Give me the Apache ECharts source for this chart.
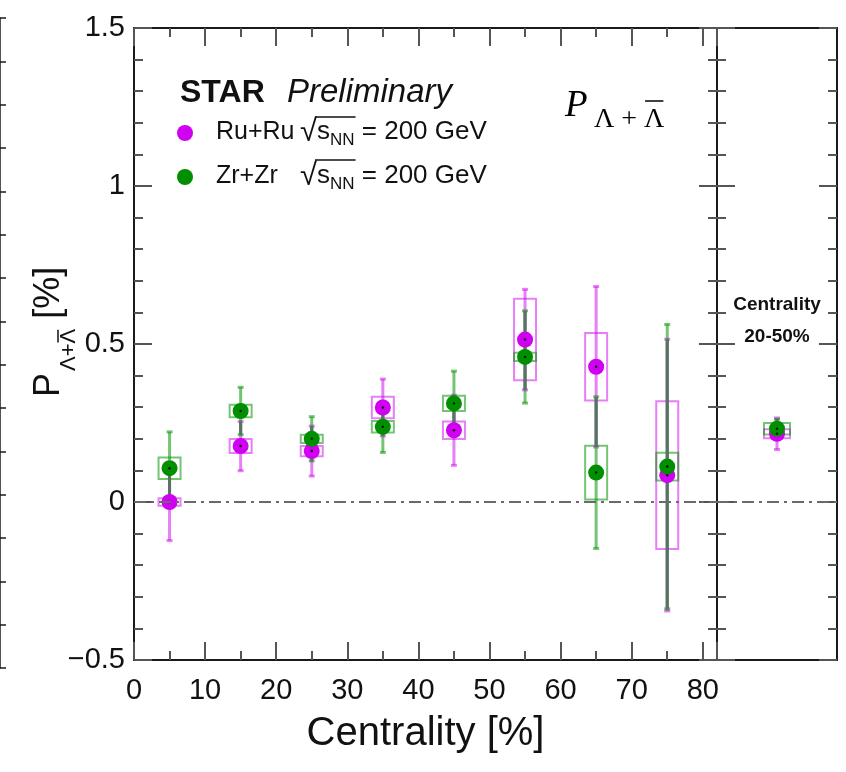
<!DOCTYPE html>
<html>
<head>
<meta charset="utf-8">
<script src="https://cdn.jsdelivr.net/npm/echarts@6/dist/echarts.min.js"></script>
<style>
  html, body { margin: 0; padding: 0; background: #ffffff; }
  #chart { width: 846px; height: 772px; }
</style>
</head>
<body>
<div id="chart"></div>
<script>
// Centrality bins (bin centres, %)
const centrality = [5, 15, 25, 35, 45, 55, 65, 75];

// Ru+Ru polarization [%]: value, statistical and systematic uncertainties
const ruValue = [0.000, 0.177, 0.161, 0.299, 0.227, 0.514, 0.428, 0.085];
const ruStat  = [0.122, 0.078, 0.079, 0.090, 0.111, 0.159, 0.254, 0.430];
const ruSys   = [0.012, 0.022, 0.016, 0.034, 0.028, 0.129, 0.107, 0.234];

// Zr+Zr polarization [%]: value, statistical and systematic uncertainties
const zrValue = [0.107, 0.288, 0.200, 0.238, 0.312, 0.459, 0.093, 0.112];
const zrStat  = [0.115, 0.075, 0.070, 0.081, 0.102, 0.146, 0.240, 0.450];
const zrSys   = [0.034, 0.020, 0.013, 0.018, 0.024, 0.013, 0.085, 0.044];

// Centrality-integrated (20-50%) results
const ruAvg = [0.216], ruAvgStat = [0.050], ruAvgSys = [0.014];
const zrAvg = [0.232], zrAvgStat = [0.030], zrAvgSys = [0.018];
const integratedLabel = ['Centrality', '20-50%'];

const seriesNames = ['Ru+Ru', 'Zr+Zr'];
const energyText = '200 GeV';

const SANS = '"Liberation Sans", Arial, Helvetica, sans-serif';
const SERIF = '"Liberation Serif", "DejaVu Serif", serif';
const RU = '#d000f0';
const ZR = '#008f00';
const RU_LIGHT = 'rgba(208,0,240,0.5)';
const ZR_LIGHT = 'rgba(0,150,0,0.55)';
const OVERLAP = '#587264';
const FRAME = '#1a1a1a';
const TICK = '#555555';
const INK = '#111111';

// text measuring for overline placement
const mctx = document.createElement('canvas').getContext('2d');
function textWidth(font, s) { mctx.font = font; return mctx.measureText(s).width; }

const chart = echarts.init(document.getElementById('chart'), null, { renderer: 'canvas' });

function fmtNum(v) {
  return v < 0 ? '\u2212' + Math.abs(v) : String(v);
}

// Systematic uncertainty boxes
function boxRenderer(halfPx, color) {
  return function (params, api) {
    const x = api.value(0), y = api.value(1), e = api.value(2);
    const top = api.coord([x, y + e]);
    const bot = api.coord([x, y - e]);
    return {
      type: 'rect',
      shape: { x: top[0] - halfPx, y: top[1], width: 2 * halfPx, height: bot[1] - top[1] },
      style: { fill: 'none', stroke: color, lineWidth: 2 }
    };
  };
}

// Statistical error bars with small caps
function barRenderer(color, caps) {
  return function (params, api) {
    const x = api.value(0), lo = api.value(1), hi = api.value(2);
    const a = api.coord([x, hi]);
    const b = api.coord([x, lo]);
    const children = [{
      type: 'line',
      shape: { x1: a[0], y1: a[1], x2: b[0], y2: b[1] },
      style: { stroke: color, lineWidth: 3 }
    }];
    if (caps) {
      children.push({ type: 'line', shape: { x1: a[0] - 3, y1: a[1], x2: a[0] + 3, y2: a[1] }, style: { stroke: color, lineWidth: 3 } });
      children.push({ type: 'line', shape: { x1: b[0] - 3, y1: b[1], x2: b[0] + 3, y2: b[1] }, style: { stroke: color, lineWidth: 3 } });
    }
    return { type: 'group', children: children };
  };
}

function panelSeries(xIdx, yIdx, xs, rv, rs, ry, zv, zs, zy, halfPx, tag) {
  const idx = { xAxisIndex: xIdx, yAxisIndex: yIdx };
  const boxData = (v, s) => xs.map((c, i) => [c, v[i], s[i]]);
  const barData = (v, s) => xs.map((c, i) => [c, v[i] - s[i], v[i] + s[i]]);
  const overlapData = xs.map((c, i) => {
    const lo = Math.max(rv[i] - rs[i], zv[i] - zs[i]);
    const hi = Math.min(rv[i] + rs[i], zv[i] + zs[i]);
    return [c, lo, hi];
  }).filter(d => d[1] < d[2]);
  return [
    Object.assign({
      type: 'line', name: 'zero' + tag, data: [], silent: true,
      markLine: {
        silent: true, symbol: 'none', label: { show: false },
        lineStyle: { color: '#6a6a6a', width: 2, type: [12, 5, 3, 5] },
        data: [{ yAxis: 0 }]
      }
    }, idx),
    Object.assign({ type: 'custom', name: 'ru sys' + tag, renderItem: boxRenderer(halfPx, RU_LIGHT), data: boxData(rv, ry), silent: true }, idx),
    Object.assign({ type: 'custom', name: 'zr sys' + tag, renderItem: boxRenderer(halfPx, ZR_LIGHT), data: boxData(zv, zy), silent: true }, idx),
    Object.assign({ type: 'custom', name: 'ru stat' + tag, renderItem: barRenderer(RU_LIGHT, true), data: barData(rv, rs), silent: true }, idx),
    Object.assign({ type: 'custom', name: 'zr stat' + tag, renderItem: barRenderer(ZR_LIGHT, true), data: barData(zv, zs), silent: true }, idx),
    Object.assign({ type: 'custom', name: 'overlap' + tag, renderItem: barRenderer(OVERLAP, false), data: overlapData, silent: true }, idx),
    Object.assign({
      type: 'scatter', name: tag ? seriesNames[0] + tag : seriesNames[0],
      symbol: 'circle', symbolSize: 16, itemStyle: { color: RU, opacity: 1 },
      data: xs.map((c, i) => [c, rv[i]])
    }, idx),
    Object.assign({
      type: 'scatter', name: tag ? seriesNames[1] + tag : seriesNames[1],
      symbol: 'circle', symbolSize: 16, itemStyle: { color: ZR, opacity: 1 },
      data: xs.map((c, i) => [c, zv[i]])
    }, idx),
    Object.assign({
      type: 'scatter', name: 'centre' + tag, symbol: 'circle', symbolSize: 2.5,
      itemStyle: { color: '#000' }, silent: true,
      data: xs.map((c, i) => [c, rv[i]]).concat(xs.map((c, i) => [c, zv[i]]))
    }, idx)
  ];
}

function frameY(gridIndex, position, withLabels) {
  return {
    type: 'value', gridIndex: gridIndex, position: position,
    min: -0.5, max: 1.5, interval: 0.5,
    axisLine: { show: true, onZero: false, lineStyle: { color: FRAME, width: 2 } },
    axisTick: { show: true, inside: true, length: 18, lineStyle: { color: TICK, width: 2 } },
    minorTick: { show: true, splitNumber: 5, length: 9, lineStyle: { color: TICK, width: 2 } },
    splitLine: { show: false },
    axisLabel: withLabels ? {
      show: true, fontFamily: SANS, fontSize: 29, color: INK, margin: 9,
      formatter: fmtNum
    } : { show: false }
  };
}

function frameX(gridIndex, position, ticks, labels) {
  return {
    type: 'value', gridIndex: gridIndex, position: position,
    min: 0, max: ticks ? 82 : 1, interval: ticks ? 10 : 1,
    axisLine: { show: true, onZero: false, lineStyle: { color: FRAME, width: 2 } },
    axisTick: ticks ? { show: true, inside: true, length: 18, lineStyle: { color: TICK, width: 2 } } : { show: false },
    minorTick: ticks ? { show: true, splitNumber: 2, length: 9, lineStyle: { color: TICK, width: 2 } } : { show: false },
    splitLine: { show: false },
    axisLabel: labels ? {
      show: true, fontFamily: SANS, fontSize: 29, color: INK, margin: 16,
      formatter: v => (v % 10 === 0 ? String(v) : '')
    } : { show: false },
    name: labels ? 'Centrality [%]' : '',
    nameLocation: 'middle', nameGap: 54,
    nameTextStyle: { fontFamily: SANS, fontSize: 40, color: INK }
  };
}

const series = []
  .concat(panelSeries(0, 0, centrality, ruValue, ruStat, ruSys, zrValue, zrStat, zrSys, 11, ''))
  .concat(panelSeries(3, 3, [0.5], ruAvg, ruAvgStat, ruAvgSys, zrAvg, zrAvgStat, zrAvgSys, 13, ' 20-50%'));

// Legend text: name, square root, s_NN, energy
const LEG_LEFT = 172, LEG_TOP = 112, LEG_SPACER = 18;
const legFonts = { n: '25px ' + SANS, r: '31px ' + SANS, s: '26px ' + SANS, sub: '17px ' + SANS };
const legendRich = {
  sp: { width: LEG_SPACER },
  n: { fontFamily: SANS, fontSize: 25, color: INK, width: 84, verticalAlign: 'bottom', padding: [0, 0, 4, 0] },
  r: { fontFamily: SANS, fontSize: 31, color: INK, verticalAlign: 'bottom', padding: [0, 0, 1, 0] },
  s: { fontFamily: SANS, fontSize: 26, color: INK, verticalAlign: 'bottom', padding: [0, 0, 4, 0] },
  sub: { fontFamily: SANS, fontSize: 17, color: INK, verticalAlign: 'bottom' },
  t: { fontFamily: SANS, fontSize: 26, color: INK, verticalAlign: 'bottom', padding: [0, 0, 4, 0] }
};
const sqrtX = LEG_LEFT + 5 + 16 + 5 + LEG_SPACER + 84;
const barStart = sqrtX + textWidth(legFonts.r, '\u221A') - 2;
const barEnd = sqrtX + textWidth(legFonts.r, '\u221A') + textWidth(legFonts.s, 's') + textWidth(legFonts.sub, 'NN') + 1;
const legendRowsY = [131, 174];

// Title P_{Λ+Λ̄}
const TITLE_X = 565, TITLE_BASE = 117, SUB_X = 594, SUB_BASE = 128;
const titleSubFont = '28px ' + SERIF;
const titleBarX0 = SUB_X + textWidth(titleSubFont, '\u039B + ') + 1;
const titleBarX1 = SUB_X + textWidth(titleSubFont, '\u039B + \u039B') - 1;

// Y axis title, drawn in a rotated group (local baseline at y = 0)
const yMainFont = '36px ' + SANS, ySubFont = '22px ' + SANS;
const ySubX = textWidth(yMainFont, 'P') + 2;
const ySubBase = 16;
const yRestX = ySubX + textWidth(ySubFont, '\u039B+\u039B');
const yBarX0 = ySubX + textWidth(ySubFont, '\u039B+') + 1;
const yBarX1 = ySubX + textWidth(ySubFont, '\u039B+\u039B') - 1;

function midY(base, size, k) { return base - (k || 0.31) * size; }

const option = {
  backgroundColor: '#ffffff',
  animation: false,
  grid: [
    { left: 134, top: 28, width: 583, height: 632, containLabel: false },
    { left: 0, top: 18, width: 6, height: 650, containLabel: false },
    { left: 717, top: 28, width: 120, height: 632, containLabel: false }
  ],
  legend: {
    data: seriesNames,
    orient: 'vertical', left: LEG_LEFT, top: LEG_TOP,
    itemWidth: 16, itemHeight: 16, itemGap: 12,
    icon: 'circle', selectedMode: false,
    textStyle: { fontFamily: SANS, fontSize: 25, color: INK, rich: legendRich },
    formatter: name => '{sp|}{n|' + name + '}{r|\u221A}{s|s}{sub|NN}{t| = ' + energyText + '}'
  },
  xAxis: [
    frameX(0, 'bottom', true, true),
    frameX(0, 'top', true, false),
    { type: 'value', gridIndex: 1, min: 0, max: 1, show: false },
    frameX(2, 'bottom', false, false),
    frameX(2, 'top', false, false)
  ],
  yAxis: [
    frameY(0, 'left', true),
    frameY(0, 'right', false),
    {
      type: 'value', gridIndex: 1, position: 'right', min: 0, max: 15, interval: 1,
      axisLine: { show: true, lineStyle: { color: FRAME, width: 1.5 } },
      axisTick: { show: false }, axisLabel: { show: false },
      splitLine: { show: true, lineStyle: { color: FRAME, width: 1.5 } }
    },
    frameY(2, 'left', false),
    frameY(2, 'right', false)
  ],
  graphic: [
    // STAR Preliminary
    { type: 'text', x: 180, y: midY(103, 32), style: { text: 'STAR', font: 'bold 32px ' + SANS, fill: INK, verticalAlign: 'middle' } },
    { type: 'text', x: 287, y: midY(103, 33), style: { text: 'Preliminary', font: 'italic 33px ' + SANS, fill: INK, verticalAlign: 'middle' } },
    // square-root overlines in the legend
    { type: 'line', shape: { x1: barStart, y1: legendRowsY[0] - 14, x2: barEnd, y2: legendRowsY[0] - 14 }, style: { stroke: INK, lineWidth: 1.5 } },
    { type: 'line', shape: { x1: barStart, y1: legendRowsY[1] - 14, x2: barEnd, y2: legendRowsY[1] - 14 }, style: { stroke: INK, lineWidth: 1.5 } },
    // P_{Λ+Λ̄} heading
    { type: 'text', x: TITLE_X, y: midY(TITLE_BASE, 37, 0.3), style: { text: 'P', font: 'italic 37px ' + SERIF, fill: '#000', verticalAlign: 'middle' } },
    { type: 'text', x: SUB_X, y: midY(SUB_BASE, 28, 0.3), style: { text: '\u039B + \u039B', font: titleSubFont, fill: '#000', verticalAlign: 'middle' } },
    { type: 'line', shape: { x1: titleBarX0, y1: 101, x2: titleBarX1, y2: 101 }, style: { stroke: '#000', lineWidth: 1.5 } },
    // y axis title
    {
      type: 'group', x: 60, y: 397, rotation: Math.PI / 2,
      children: [
        { type: 'text', x: 0, y: midY(0, 36), style: { text: 'P', font: yMainFont, fill: INK, verticalAlign: 'middle' } },
        { type: 'text', x: ySubX, y: midY(ySubBase, 22), style: { text: '\u039B+\u039B', font: ySubFont, fill: INK, verticalAlign: 'middle' } },
        { type: 'line', shape: { x1: yBarX0, y1: -2, x2: yBarX1, y2: -2 }, style: { stroke: INK, lineWidth: 1.5 } },
        { type: 'text', x: yRestX, y: midY(0, 36), style: { text: ' [%]', font: yMainFont, fill: INK, verticalAlign: 'middle' } }
      ]
    },
    // integrated-centrality panel label
    { type: 'text', x: 777, y: 305, style: { text: integratedLabel[0], font: 'bold 19px ' + SANS, fill: INK, align: 'center', verticalAlign: 'middle' } },
    { type: 'text', x: 777, y: 337, style: { text: integratedLabel[1], font: 'bold 19px ' + SANS, fill: INK, align: 'center', verticalAlign: 'middle' } }
  ],
  series: series
};

chart.setOption(option);
</script>
</body>
</html>
